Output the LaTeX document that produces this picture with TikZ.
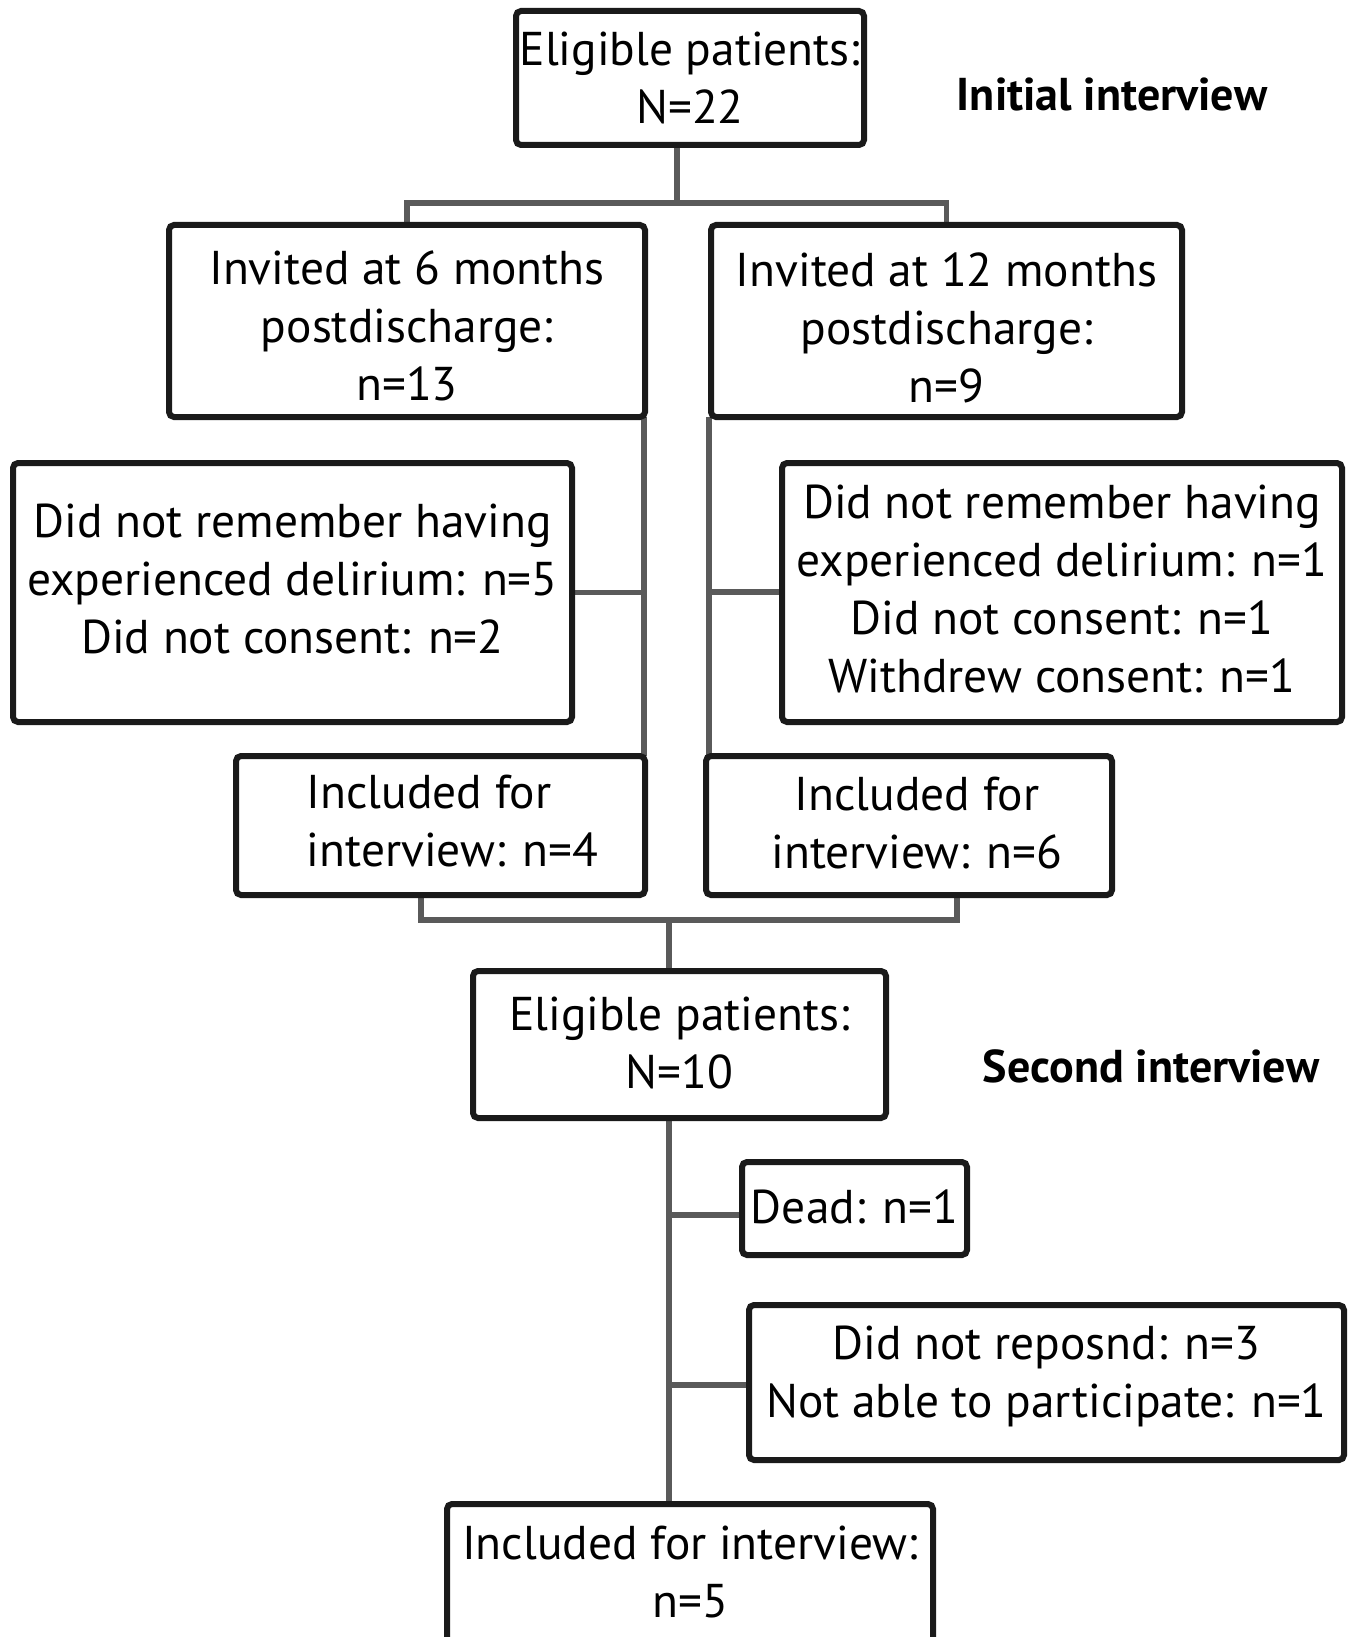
\documentclass[tikz,border=0pt]{standalone}
\usepackage{fontspec}
\setmainfont{PT Sans}
\usetikzlibrary{calc}
\pgfdeclarelayer{bg}
\pgfsetlayers{bg,main}
\definecolor{boxc}{HTML}{1A1A1A}
\definecolor{linec}{HTML}{5A5A5A}
\newcommand\fs{\fontsize{23.7pt}{29pt}\selectfont}
\newcommand\hfs{\fontsize{23pt}{29pt}\selectfont}
\newcommand\tx[3][c]{\raisebox{#2}[\height][\depth]{\begin{tabular}{@{}#1@{}}#3\end{tabular}}}
\tikzset{
  bx/.style={draw=boxc, line width=3pt, rounded corners=2.5pt, fill=white, inner sep=0pt, outer sep=0pt, font=\fs, text=black},
  cn/.style={draw=linec, line width=2.7pt},
  hd/.style={font=\hfs\bfseries, text=black, inner sep=0pt}
}
\begin{document}
\begin{tikzpicture}[x=0.5pt,y=-0.5pt]
\useasboundingbox (0,0) rectangle (1349,1637);
\clip (0,0) rectangle (1349,1637);
% boxes
\node[bx, minimum width=174pt, minimum height=67pt] (top) at (690,78) {\tx{-2.5pt}{Eligible patients:\\ N=22}};
\node[bx, minimum width=238pt, minimum height=96pt] (six) at (407,321) {\tx{-5pt}{Invited at 6 months\\ postdischarge:\\ n=13}};
\node[bx, minimum width=235.5pt, minimum height=96pt] (twelve) at (946.5,321) {\tx{-6pt}{Invited at 12 months\\ postdischarge:\\ n=9}};
\node[bx, minimum width=279.5pt, minimum height=129.5pt] (exL) at (292.5,592.5) {\tx{4.5pt}{Did not remember having\\ experienced delirium: n=5\\ Did not consent: n=2}};
\node[bx, minimum width=280pt, minimum height=129.5pt] (exR) at (1062,592.5) {\tx{-0.5pt}{Did not remember having\\ experienced delirium: n=1\\ Did not consent: n=1\\ Withdrew consent: n=1}};
\node[bx, minimum width=204.5pt, minimum height=69.5pt] (incL) at (440.5,825.5) {\hspace*{12pt}\tx[l]{0pt}{Included for\\ interview: n=4}};
\node[bx, minimum width=203pt, minimum height=69.5pt] (incR) at (909,825.5) {\hspace*{8pt}\tx{-1pt}{Included for\\ interview: n=6}};
\node[bx, minimum width=206.5pt, minimum height=73.5pt] (elig2) at (679.5,1044.5) {\tx{-1.5pt}{Eligible patients:\\ N=10}};
\node[bx, minimum width=112.5pt, minimum height=46.5pt] (dead) at (854.5,1208.5) {\tx{-1.5pt}{Dead: n=1}};
\node[bx, minimum width=297.5pt, minimum height=77.5pt] (resp) at (1046.5,1382.5) {\tx{3pt}{Did not reposnd: n=3\\ Not able to participate: n=1}};
\node[bx, minimum width=243pt, minimum height=81pt] (final) at (690,1585) {\tx{4pt}{Included for interview:\\ n=5}};
% headings
\node[hd] (h1) at (1112,94) {Initial interview};
\node[hd] (h2) at (1151,1066) {Second interview};
% connectors
\coordinate (j1) at (677,203);
\coordinate (vL) at (644,590);
\coordinate (vR) at (709,592);
\coordinate (b1) at (421,920);
\coordinate (b2) at (957,920);
\coordinate (bc) at (669,920);
\coordinate (t1) at (669,1215);
\coordinate (t2) at (669,1385);
\begin{pgfonlayer}{bg}
\fill[white] (0,0) rectangle (1349,1637);
\draw[cn] (top.south -| j1) -- (j1);
\draw[cn] (six.north) -- (six.north |- j1) -- (twelve.north |- j1) -- (twelve.north);
\draw[cn] (six.south -| vL) -- (incL.north -| vL);
\draw[cn] (exL.east) -- (exL.east -| vL);
\draw[cn] (twelve.south -| vR) -- (incR.north -| vR);
\draw[cn] (exR.west |- vR) -- (vR);
\draw[cn] (incL.south -| b1) -- (b1) -- (b2) -- (incR.south -| b2);
\draw[cn] (bc) -- (elig2.north -| bc);
\draw[cn] (elig2.south -| t1) -- (final.north -| t1);
\draw[cn] (t1) -- (dead.west |- t1);
\draw[cn] (t2) -- (resp.west |- t2);
\end{pgfonlayer}
\end{tikzpicture}
\end{document}
